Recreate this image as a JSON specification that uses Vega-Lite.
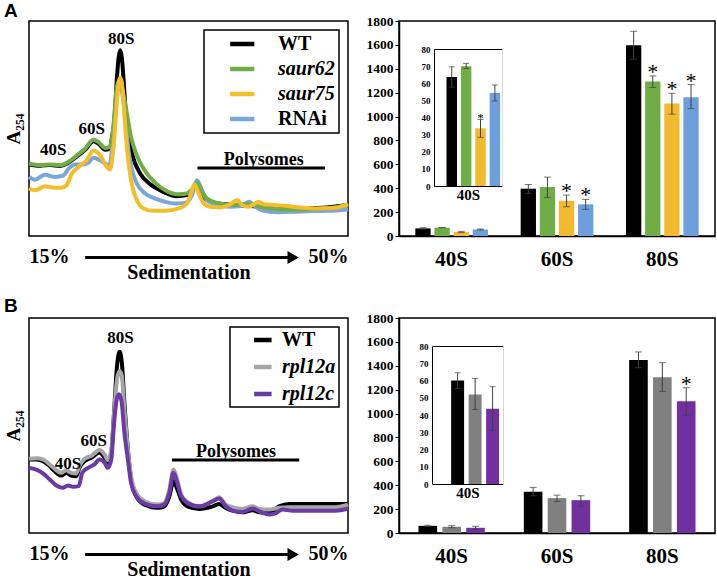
{
  "$schema": "https://vega.github.io/schema/vega-lite/v6.json",
  "padding": {"left": 3, "top": 1, "right": 0, "bottom": 0},
  "background": "white",
  "config": {
    "font": "Liberation Serif",
    "view": {"stroke": "black", "strokeWidth": 1.5},
    "axis": {"grid": false, "labelOverlap": false, "labelBound": false, "labelColor": "black", "titleColor": "black", "labelFont": "Liberation Serif", "titleFont": "Liberation Serif", "labelFontWeight": "bold", "titleFontWeight": "bold", "domainColor": "black", "tickColor": "black"},
    "axisY": {"labelOverlap": false},
    "axisQuantitative": {"labelOverlap": false},
    "text": {"font": "Liberation Serif", "fontWeight": "bold", "color": "black"}
  },
  "resolve": {"scale": {"color": "independent", "xOffset": "independent", "x": "independent", "y": "independent"}, "legend": {"color": "independent"}},
  "datasets": {
    "profA": [
      {"s":"WT","x":0,"y":33.3},{"s":"WT","x":3.5,"y":32.7},{"s":"WT","x":6.6,"y":33.0},{"s":"WT","x":9.7,"y":32.6},{"s":"WT","x":11.8,"y":33.6},{"s":"WT","x":13.4,"y":35.2},{"s":"WT","x":15.0,"y":37.0},{"s":"WT","x":17.6,"y":40.1},{"s":"WT","x":20.2,"y":44.1},{"s":"WT","x":21.8,"y":42.9},{"s":"WT","x":23.9,"y":40.1},{"s":"WT","x":25.2,"y":40.6},{"s":"WT","x":26.2,"y":47.5},{"s":"WT","x":26.8,"y":53.7},{"s":"WT","x":27.5,"y":72.2},{"s":"WT","x":28.1,"y":83.0},{"s":"WT","x":28.6,"y":86.4},{"s":"WT","x":29.1,"y":83.0},{"s":"WT","x":29.7,"y":71.5},{"s":"WT","x":30.5,"y":53.7},{"s":"WT","x":32.3,"y":38.3},{"s":"WT","x":34.9,"y":29.0},{"s":"WT","x":37.5,"y":24.7},{"s":"WT","x":39.6,"y":22.5},{"s":"WT","x":42.7,"y":20.1},{"s":"WT","x":46.4,"y":18.5},{"s":"WT","x":49.5,"y":19.0},{"s":"WT","x":51.1,"y":21.3},{"s":"WT","x":52.5,"y":23.1},{"s":"WT","x":53.7,"y":20.1},{"s":"WT","x":55.8,"y":16.7},{"s":"WT","x":59.0,"y":15.1},{"s":"WT","x":64.2,"y":14.5},{"s":"WT","x":69.4,"y":13.9},{"s":"WT","x":74.7,"y":13.3},{"s":"WT","x":79.9,"y":12.8},{"s":"WT","x":85.1,"y":12.7},{"s":"WT","x":90.4,"y":13.0},{"s":"WT","x":95.6,"y":13.6},{"s":"WT","x":100,"y":14.5},
      {"s":"RNAi","x":0,"y":27.5},{"s":"RNAi","x":1.9,"y":26.2},{"s":"RNAi","x":5.0,"y":28.5},{"s":"RNAi","x":8.2,"y":27.5},{"s":"RNAi","x":10.8,"y":28.2},{"s":"RNAi","x":12.4,"y":31.3},{"s":"RNAi","x":14.5,"y":33.3},{"s":"RNAi","x":17.1,"y":33.3},{"s":"RNAi","x":18.6,"y":34.0},{"s":"RNAi","x":20.2,"y":36.4},{"s":"RNAi","x":22.3,"y":35.2},{"s":"RNAi","x":24.4,"y":33.3},{"s":"RNAi","x":25.4,"y":33.6},{"s":"RNAi","x":26.2,"y":44.4},{"s":"RNAi","x":27.0,"y":59.9},{"s":"RNAi","x":27.9,"y":68.4},{"s":"RNAi","x":28.6,"y":69.1},{"s":"RNAi","x":29.3,"y":66.0},{"s":"RNAi","x":30.2,"y":55.2},{"s":"RNAi","x":31.2,"y":39.8},{"s":"RNAi","x":32.3,"y":30.6},{"s":"RNAi","x":33.8,"y":24.4},{"s":"RNAi","x":36.4,"y":19.8},{"s":"RNAi","x":39.6,"y":17.4},{"s":"RNAi","x":42.7,"y":15.9},{"s":"RNAi","x":45.9,"y":15.1},{"s":"RNAi","x":49.0,"y":15.4},{"s":"RNAi","x":51.1,"y":19.0},{"s":"RNAi","x":52.7,"y":25.9},{"s":"RNAi","x":54.2,"y":21.3},{"s":"RNAi","x":55.8,"y":16.7},{"s":"RNAi","x":59.0,"y":14.4},{"s":"RNAi","x":63.1,"y":13.6},{"s":"RNAi","x":66.3,"y":13.9},{"s":"RNAi","x":68.9,"y":15.9},{"s":"RNAi","x":71.0,"y":13.6},{"s":"RNAi","x":73.6,"y":11.7},{"s":"RNAi","x":77.8,"y":11.1},{"s":"RNAi","x":83.0,"y":11.3},{"s":"RNAi","x":88.3,"y":11.6},{"s":"RNAi","x":93.5,"y":11.7},{"s":"RNAi","x":100,"y":12.3},
      {"s":"saur62","x":0,"y":33.6},{"s":"saur62","x":3.5,"y":33.0},{"s":"saur62","x":6.6,"y":33.3},{"s":"saur62","x":9.7,"y":32.9},{"s":"saur62","x":11.8,"y":34.0},{"s":"saur62","x":13.4,"y":35.5},{"s":"saur62","x":15.0,"y":37.5},{"s":"saur62","x":17.6,"y":40.6},{"s":"saur62","x":20.2,"y":44.8},{"s":"saur62","x":21.8,"y":43.7},{"s":"saur62","x":23.9,"y":40.9},{"s":"saur62","x":25.2,"y":41.4},{"s":"saur62","x":26.2,"y":47.5},{"s":"saur62","x":26.8,"y":56.8},{"s":"saur62","x":27.5,"y":69.1},{"s":"saur62","x":28.3,"y":72.2},{"s":"saur62","x":28.9,"y":70.7},{"s":"saur62","x":29.6,"y":66.0},{"s":"saur62","x":30.7,"y":56.8},{"s":"saur62","x":32.0,"y":46.0},{"s":"saur62","x":33.8,"y":37.5},{"s":"saur62","x":36.4,"y":30.2},{"s":"saur62","x":39.6,"y":24.7},{"s":"saur62","x":42.7,"y":21.3},{"s":"saur62","x":46.4,"y":19.4},{"s":"saur62","x":49.5,"y":19.8},{"s":"saur62","x":51.1,"y":21.6},{"s":"saur62","x":52.7,"y":24.7},{"s":"saur62","x":54.2,"y":20.5},{"s":"saur62","x":55.8,"y":17.4},{"s":"saur62","x":59.0,"y":15.4},{"s":"saur62","x":64.2,"y":14.4},{"s":"saur62","x":68.9,"y":14.8},{"s":"saur62","x":72.6,"y":13.6},{"s":"saur62","x":79.9,"y":12.3},{"s":"saur62","x":85.1,"y":12.3},{"s":"saur62","x":90.4,"y":12.7},{"s":"saur62","x":95.6,"y":13.3},{"s":"saur62","x":100,"y":14.4},
      {"s":"saur75","x":0,"y":22.1},{"s":"saur75","x":1.9,"y":21.3},{"s":"saur75","x":5.0,"y":23.1},{"s":"saur75","x":8.2,"y":22.5},{"s":"saur75","x":10.3,"y":22.5},{"s":"saur75","x":11.8,"y":23.6},{"s":"saur75","x":13.4,"y":29.0},{"s":"saur75","x":15.5,"y":32.1},{"s":"saur75","x":18.1,"y":35.2},{"s":"saur75","x":20.2,"y":39.8},{"s":"saur75","x":22.3,"y":37.5},{"s":"saur75","x":24.4,"y":32.1},{"s":"saur75","x":25.4,"y":30.9},{"s":"saur75","x":26.5,"y":41.4},{"s":"saur75","x":27.5,"y":61.4},{"s":"saur75","x":28.2,"y":72.2},{"s":"saur75","x":28.6,"y":73.5},{"s":"saur75","x":29.1,"y":71.5},{"s":"saur75","x":29.8,"y":58.3},{"s":"saur75","x":30.7,"y":41.4},{"s":"saur75","x":32.0,"y":25.9},{"s":"saur75","x":33.8,"y":16.7},{"s":"saur75","x":35.9,"y":12.8},{"s":"saur75","x":39.1,"y":11.7},{"s":"saur75","x":42.7,"y":11.7},{"s":"saur75","x":46.9,"y":12.8},{"s":"saur75","x":49.5,"y":15.1},{"s":"saur75","x":50.8,"y":19.8},{"s":"saur75","x":51.8,"y":24.1},{"s":"saur75","x":53.2,"y":19.8},{"s":"saur75","x":54.8,"y":15.1},{"s":"saur75","x":56.9,"y":13.6},{"s":"saur75","x":60.0,"y":13.3},{"s":"saur75","x":63.1,"y":14.8},{"s":"saur75","x":65.2,"y":16.7},{"s":"saur75","x":66.8,"y":14.4},{"s":"saur75","x":68.9,"y":13.6},{"s":"saur75","x":70.5,"y":14.8},{"s":"saur75","x":72.0,"y":15.9},{"s":"saur75","x":73.6,"y":14.8},{"s":"saur75","x":76.8,"y":14.4},{"s":"saur75","x":80.9,"y":13.9},{"s":"saur75","x":85.1,"y":13.3},{"s":"saur75","x":90.4,"y":12.8},{"s":"saur75","x":95.6,"y":13.0},{"s":"saur75","x":100,"y":14.8}
    ],
    "profB": [
      {"s":"WT","x":0,"y":34.2},{"s":"WT","x":2.3,"y":34.2},{"s":"WT","x":4.4,"y":33.4},{"s":"WT","x":6.5,"y":31.1},{"s":"WT","x":8.0,"y":28.8},{"s":"WT","x":10.1,"y":26.7},{"s":"WT","x":11.7,"y":28.0},{"s":"WT","x":13.2,"y":26.7},{"s":"WT","x":14.8,"y":26.4},{"s":"WT","x":15.8,"y":30.3},{"s":"WT","x":17.4,"y":33.4},{"s":"WT","x":19.5,"y":35.0},{"s":"WT","x":22.1,"y":37.3},{"s":"WT","x":23.7,"y":35.0},{"s":"WT","x":24.7,"y":32.7},{"s":"WT","x":25.8,"y":37.3},{"s":"WT","x":26.6,"y":54.4},{"s":"WT","x":27.6,"y":77.8},{"s":"WT","x":28.4,"y":84.3},{"s":"WT","x":29.1,"y":79.3},{"s":"WT","x":29.9,"y":60.7},{"s":"WT","x":31.0,"y":38.9},{"s":"WT","x":32.0,"y":24.9},{"s":"WT","x":33.6,"y":17.1},{"s":"WT","x":36.2,"y":13.2},{"s":"WT","x":40.4,"y":11.7},{"s":"WT","x":42.4,"y":12.4},{"s":"WT","x":44.0,"y":17.1},{"s":"WT","x":45.3,"y":24.1},{"s":"WT","x":46.1,"y":21.8},{"s":"WT","x":47.7,"y":15.6},{"s":"WT","x":49.7,"y":12.4},{"s":"WT","x":53.4,"y":11.2},{"s":"WT","x":57.6,"y":12.4},{"s":"WT","x":59.6,"y":13.5},{"s":"WT","x":61.7,"y":11.7},{"s":"WT","x":63.8,"y":10.4},{"s":"WT","x":66.9,"y":9.6},{"s":"WT","x":70.1,"y":10.6},{"s":"WT","x":72.2,"y":9.6},{"s":"WT","x":75.3,"y":9.3},{"s":"WT","x":78.4,"y":12.4},{"s":"WT","x":81.5,"y":13.5},{"s":"WT","x":86.8,"y":13.5},{"s":"WT","x":92.0,"y":13.5},{"s":"WT","x":96.1,"y":13.5},{"s":"WT","x":100,"y":13.5},
      {"s":"rpl12a","x":0,"y":34.5},{"s":"rpl12a","x":2.3,"y":34.8},{"s":"rpl12a","x":4.4,"y":34.2},{"s":"rpl12a","x":6.5,"y":31.9},{"s":"rpl12a","x":8.0,"y":29.9},{"s":"rpl12a","x":10.1,"y":28.0},{"s":"rpl12a","x":11.7,"y":29.2},{"s":"rpl12a","x":13.2,"y":28.0},{"s":"rpl12a","x":14.8,"y":27.7},{"s":"rpl12a","x":15.8,"y":31.1},{"s":"rpl12a","x":17.4,"y":34.5},{"s":"rpl12a","x":19.5,"y":35.8},{"s":"rpl12a","x":22.1,"y":38.6},{"s":"rpl12a","x":23.7,"y":36.5},{"s":"rpl12a","x":24.7,"y":33.9},{"s":"rpl12a","x":25.8,"y":38.9},{"s":"rpl12a","x":26.6,"y":54.4},{"s":"rpl12a","x":27.6,"y":71.5},{"s":"rpl12a","x":28.4,"y":75.4},{"s":"rpl12a","x":29.1,"y":73.1},{"s":"rpl12a","x":29.9,"y":57.5},{"s":"rpl12a","x":31.0,"y":38.9},{"s":"rpl12a","x":32.0,"y":26.4},{"s":"rpl12a","x":33.6,"y":18.7},{"s":"rpl12a","x":36.2,"y":14.8},{"s":"rpl12a","x":40.4,"y":13.2},{"s":"rpl12a","x":42.4,"y":14.0},{"s":"rpl12a","x":44.0,"y":20.2},{"s":"rpl12a","x":45.3,"y":29.5},{"s":"rpl12a","x":46.3,"y":25.7},{"s":"rpl12a","x":47.7,"y":17.9},{"s":"rpl12a","x":49.7,"y":14.3},{"s":"rpl12a","x":53.4,"y":12.4},{"s":"rpl12a","x":57.6,"y":14.8},{"s":"rpl12a","x":59.6,"y":16.6},{"s":"rpl12a","x":61.7,"y":13.2},{"s":"rpl12a","x":63.8,"y":12.0},{"s":"rpl12a","x":66.9,"y":11.2},{"s":"rpl12a","x":70.1,"y":12.4},{"s":"rpl12a","x":72.2,"y":11.2},{"s":"rpl12a","x":75.3,"y":10.9},{"s":"rpl12a","x":78.4,"y":11.7},{"s":"rpl12a","x":81.5,"y":12.0},{"s":"rpl12a","x":86.8,"y":12.0},{"s":"rpl12a","x":92.0,"y":12.0},{"s":"rpl12a","x":96.1,"y":12.0},{"s":"rpl12a","x":100,"y":13.2},
      {"s":"rpl12c","x":0,"y":30.3},{"s":"rpl12c","x":2.3,"y":29.5},{"s":"rpl12c","x":4.4,"y":27.7},{"s":"rpl12c","x":6.5,"y":24.9},{"s":"rpl12c","x":8.6,"y":22.1},{"s":"rpl12c","x":10.6,"y":21.0},{"s":"rpl12c","x":12.2,"y":22.1},{"s":"rpl12c","x":13.8,"y":21.5},{"s":"rpl12c","x":15.6,"y":21.8},{"s":"rpl12c","x":16.7,"y":28.0},{"s":"rpl12c","x":18.5,"y":30.3},{"s":"rpl12c","x":20.5,"y":31.9},{"s":"rpl12c","x":22.1,"y":34.2},{"s":"rpl12c","x":23.7,"y":32.7},{"s":"rpl12c","x":24.7,"y":30.3},{"s":"rpl12c","x":25.8,"y":34.2},{"s":"rpl12c","x":26.6,"y":49.8},{"s":"rpl12c","x":27.5,"y":62.2},{"s":"rpl12c","x":28.2,"y":64.5},{"s":"rpl12c","x":29.0,"y":61.4},{"s":"rpl12c","x":29.9,"y":46.7},{"s":"rpl12c","x":31.0,"y":34.2},{"s":"rpl12c","x":32.0,"y":23.3},{"s":"rpl12c","x":33.6,"y":17.1},{"s":"rpl12c","x":36.2,"y":13.7},{"s":"rpl12c","x":40.4,"y":12.4},{"s":"rpl12c","x":42.4,"y":13.2},{"s":"rpl12c","x":44.0,"y":18.7},{"s":"rpl12c","x":45.3,"y":28.0},{"s":"rpl12c","x":46.3,"y":24.1},{"s":"rpl12c","x":47.7,"y":17.1},{"s":"rpl12c","x":49.7,"y":14.0},{"s":"rpl12c","x":53.4,"y":12.4},{"s":"rpl12c","x":57.6,"y":14.8},{"s":"rpl12c","x":59.6,"y":16.0},{"s":"rpl12c","x":61.7,"y":12.4},{"s":"rpl12c","x":63.8,"y":10.4},{"s":"rpl12c","x":66.9,"y":9.8},{"s":"rpl12c","x":70.1,"y":11.4},{"s":"rpl12c","x":72.2,"y":10.1},{"s":"rpl12c","x":75.3,"y":8.6},{"s":"rpl12c","x":77.4,"y":9.3},{"s":"rpl12c","x":79.5,"y":10.9},{"s":"rpl12c","x":82.6,"y":10.4},{"s":"rpl12c","x":89.9,"y":10.4},{"s":"rpl12c","x":96.1,"y":10.4},{"s":"rpl12c","x":100,"y":11.4}
    ],
    "barsA": [
      {"fraction":"40S","genotype":"WT","value":63.7,"lo":57.8,"hi":69.6,"sig":false},
      {"fraction":"40S","genotype":"saur62","value":70.0,"lo":68.6,"hi":71.6,"sig":false},
      {"fraction":"40S","genotype":"saur75","value":33.7,"lo":28.4,"hi":38.8,"sig":true},
      {"fraction":"40S","genotype":"RNAi","value":54.3,"lo":49.6,"hi":59.0,"sig":false},
      {"fraction":"60S","genotype":"WT","value":396,"lo":357,"hi":432,"sig":false},
      {"fraction":"60S","genotype":"saur62","value":410,"lo":323,"hi":493,"sig":false},
      {"fraction":"60S","genotype":"saur75","value":295,"lo":245,"hi":343,"sig":true},
      {"fraction":"60S","genotype":"RNAi","value":265,"lo":223,"hi":306,"sig":true},
      {"fraction":"80S","genotype":"WT","value":1597,"lo":1480,"hi":1714,"sig":false},
      {"fraction":"80S","genotype":"saur62","value":1293,"lo":1243,"hi":1340,"sig":true},
      {"fraction":"80S","genotype":"saur75","value":1109,"lo":1020,"hi":1195,"sig":true},
      {"fraction":"80S","genotype":"RNAi","value":1162,"lo":1067,"hi":1268,"sig":true}
    ],
    "barsB": [
      {"fraction":"40S","genotype":"WT","value":60.0,"lo":55.4,"hi":64.5,"sig":false},
      {"fraction":"40S","genotype":"rpl12a","value":51.9,"lo":43.2,"hi":61.2,"sig":false},
      {"fraction":"40S","genotype":"rpl12c","value":43.6,"lo":31.2,"hi":56.4,"sig":false},
      {"fraction":"60S","genotype":"WT","value":345,"lo":312,"hi":382,"sig":false},
      {"fraction":"60S","genotype":"rpl12a","value":292,"lo":264,"hi":317,"sig":false},
      {"fraction":"60S","genotype":"rpl12c","value":275,"lo":222,"hi":312,"sig":false},
      {"fraction":"80S","genotype":"WT","value":1449,"lo":1384,"hi":1516,"sig":false},
      {"fraction":"80S","genotype":"rpl12a","value":1303,"lo":1185,"hi":1426,"sig":false},
      {"fraction":"80S","genotype":"rpl12c","value":1104,"lo":986,"hi":1216,"sig":true}
    ]
  },
  "columns": 2,
  "bounds": "flush",
  "spacing": {"row": 82, "column": 51},
  "concat": [
    {
      "title": {"text": "A", "anchor": "start", "frame": "bounds", "font": "Liberation Sans", "fontSize": 19, "fontWeight": "bold", "offset": 0, "color": "black"},
      "width": 319, "height": 215,
      "layer": [
        {
          "data": {"name": "profA"},
          "mark": {"type": "line", "strokeWidth": 4, "interpolate": "monotone"},
          "encoding": {
            "x": {"field": "x", "type": "quantitative", "scale": {"domain": [0, 100], "nice": false}, "axis": {"values": [0, 100], "labelExpr": "datum.value == 0 ? '15%' : '50%'", "labelFlush": true, "ticks": false, "tickSize": 0, "domain": false, "labelFontSize": 20, "labelPadding": 10, "title": "Sedimentation", "titleFontSize": 20, "titlePadding": -4}},
            "y": {"field": "y", "type": "quantitative", "scale": {"domain": [0, 100], "nice": false}, "axis": {"title": "A₂₅₄", "labels": false, "ticks": false, "domain": false, "titleFontSize": 19, "titlePadding": 6}},
            "color": {"field": "s", "type": "nominal", "scale": {"domain": ["WT", "saur62", "saur75", "RNAi"], "range": ["#000000", "#70AD47", "#F4BE2A", "#7AA6DB"]},
              "legend": {"title": null, "orient": "top-right", "offset": 9, "strokeColor": "black", "fillColor": "white", "padding": 4, "labelFontSize": 20, "labelFont": "Liberation Serif", "labelFontWeight": "bold", "labelColor": "black", "symbolType": "M-0.8,0H2.5", "symbolStrokeWidth": 4.5, "symbolSize": 215, "symbolOffset": 18, "rowPadding": 5, "labelOffset": 32,
                "encode": {"labels": {"update": {"fontStyle": {"signal": "datum.value == 'WT' || datum.value == 'RNAi' ? 'normal' : 'italic'"}}}, "legend": {"update": {"strokeWidth": {"value": 1.5}}}}}}
          }
        },
        {"data": {"values": [{}]}, "mark": {"type": "text", "fontSize": 17}, "encoding": {"x": {"datum": 7.6}, "y": {"datum": 39.8}, "text": {"value": "40S"}}},
        {"data": {"values": [{}]}, "mark": {"type": "text", "fontSize": 17}, "encoding": {"x": {"datum": 19.7}, "y": {"datum": 50}, "text": {"value": "60S"}}},
        {"data": {"values": [{}]}, "mark": {"type": "text", "fontSize": 17}, "encoding": {"x": {"datum": 28.9}, "y": {"datum": 91.5}, "text": {"value": "80S"}}},
        {"data": {"values": [{}]}, "mark": {"type": "text", "fontSize": 18}, "encoding": {"x": {"datum": 73.6}, "y": {"datum": 35.5}, "text": {"value": "Polysomes"}}},
        {"data": {"values": [{}]}, "mark": {"type": "rule", "strokeWidth": 3, "color": "black"}, "encoding": {"x": {"datum": 52.8}, "x2": {"datum": 92.8}, "y": {"datum": 31.6}}},
        {"data": {"values": [{}]}, "mark": {"type": "rule", "strokeWidth": 3, "color": "black", "clip": false}, "encoding": {"x": {"datum": 17.6}, "x2": {"datum": 82}, "y": {"datum": -10}}},
        {"data": {"values": [{}]}, "mark": {"type": "point", "shape": "triangle-right", "filled": true, "size": 170, "color": "black", "opacity": 1, "clip": false}, "encoding": {"x": {"datum": 82.8}, "y": {"datum": -10}}}
      ]
    },
    {
      "width": 316, "height": 215,
      "data": {"name": "barsA"},
      "layer": [
        {
          "encoding": {
            "x": {"field": "fraction", "type": "nominal", "scale": {"domain": ["40S", "60S", "80S"], "paddingInner": 0.31, "paddingOuter": 0.155}, "axis": {"title": null, "ticks": false, "tickSize": 0, "labelFontSize": 21, "labelPadding": 12, "labelAngle": 0, "domainWidth": 1.5}},
            "xOffset": {"field": "genotype", "type": "nominal", "scale": {"domain": ["WT", "saur62", "saur75", "RNAi"], "paddingInner": 0.2, "paddingOuter": 0}},
            "y": {"field": "value", "type": "quantitative", "title": null, "scale": {"domain": [0, 1800], "nice": false}, "axis": {"values": [0, 200, 400, 600, 800, 1000, 1200, 1400, 1600, 1800], "tickCount": 10, "format": "d", "labelOverlap": false, "labelFontSize": 13.5, "tickSize": 4, "labelPadding": 2, "domainWidth": 1.5}}
          },
          "layer": [
            {"mark": {"type": "bar"}, "encoding": {
              "color": {"field": "genotype", "type": "nominal", "scale": {"domain": ["WT", "saur62", "saur75", "RNAi"], "range": ["#000000", "#70AD47", "#F2BA2F", "#6C9FDC"]}, "legend": null}}},
            {"mark": {"type": "rule", "color": "#404040", "strokeWidth": 1}, "encoding": {"y": {"field": "lo", "type": "quantitative"}, "y2": {"field": "hi"}}},
            {"mark": {"type": "tick", "color": "#404040", "size": 7, "thickness": 1}, "encoding": {"y": {"field": "lo", "type": "quantitative"}}},
            {"mark": {"type": "tick", "color": "#404040", "size": 7, "thickness": 1}, "encoding": {"y": {"field": "hi", "type": "quantitative"}}},
            {"transform": [{"filter": "datum.sig && datum.fraction != '40S'"}], "mark": {"type": "text", "text": "*", "fontSize": 22, "fontWeight": "normal", "baseline": "alphabetic", "dy": 3, "color": "black", "fill": "black"}, "encoding": {"y": {"field": "hi", "type": "quantitative"}}}
          ]
        },
        {
          "transform": [{"filter": "datum.fraction == '40S'"}],
          "layer": [
            {"mark": {"type": "bar"}, "encoding": {
              "x": {"field": "genotype", "type": "nominal", "scale": {"domain": ["WT", "saur62", "saur75", "RNAi"], "range": [35, 103], "paddingInner": 0.27, "paddingOuter": 0.5, "align": 0.87}, "axis": {"orient": "bottom", "offset": -50, "labels": false, "ticks": false, "tickSize": 0, "title": "40S", "titleFontSize": 15, "titlePadding": 1, "domainWidth": 1}},
              "y": {"field": "value", "type": "quantitative", "title": null, "scale": {"domain": [0, 80], "range": [165, 28], "nice": false}, "axis": {"orient": "left", "offset": -35, "values": [0, 10, 20, 30, 40, 50, 60, 70, 80], "labelOverlap": false, "labelFontSize": 9, "ticks": false, "tickSize": 0, "labelPadding": 4, "domainWidth": 1}},
              "color": {"field": "genotype", "type": "nominal", "scale": {"domain": ["WT", "saur62", "saur75", "RNAi"], "range": ["#000000", "#70AD47", "#F2BA2F", "#6C9FDC"]}, "legend": null}}},
            {"mark": {"type": "rule", "color": "#404040", "strokeWidth": 1}, "encoding": {
              "x": {"field": "genotype", "type": "nominal", "axis": {"orient": "top", "offset": -28, "labels": false, "ticks": false, "tickSize": 0, "title": null, "domainWidth": 1}},
              "y": {"field": "lo", "type": "quantitative", "title": null, "axis": {"orient": "right", "offset": -213, "labels": false, "ticks": false, "tickSize": 0, "title": null, "domainColor": "#d8d8d8", "domainWidth": 1}}, "y2": {"field": "hi"}}},
            {"mark": {"type": "tick", "color": "#404040", "size": 6, "thickness": 1}, "encoding": {"x": {"field": "genotype", "type": "nominal", "axis": null}, "y": {"field": "lo", "type": "quantitative", "axis": null}}},
            {"mark": {"type": "tick", "color": "#404040", "size": 6, "thickness": 1}, "encoding": {"x": {"field": "genotype", "type": "nominal", "axis": null}, "y": {"field": "hi", "type": "quantitative", "axis": null}}},
            {"transform": [{"filter": "datum.sig"}], "mark": {"type": "text", "text": "*", "fontSize": 13, "fontWeight": "normal", "baseline": "alphabetic", "dy": 2, "color": "black", "fill": "black"}, "encoding": {"x": {"field": "genotype", "type": "nominal", "axis": null}, "y": {"field": "hi", "type": "quantitative", "axis": null}}}
          ],
          "resolve": {"axis": {"x": "independent", "y": "independent"}}
        }
      ],
      "resolve": {"scale": {"x": "independent", "y": "independent"}}
    },
    {
      "title": {"text": "B", "anchor": "start", "frame": "bounds", "font": "Liberation Sans", "fontSize": 19, "fontWeight": "bold", "offset": 2, "color": "black"},
      "width": 319, "height": 215,
      "layer": [
        {
          "data": {"name": "profB"},
          "mark": {"type": "line", "strokeWidth": 4, "interpolate": "monotone"},
          "encoding": {
            "x": {"field": "x", "type": "quantitative", "scale": {"domain": [0, 100], "nice": false}, "axis": {"values": [0, 100], "labelExpr": "datum.value == 0 ? '15%' : '50%'", "labelFlush": true, "ticks": false, "tickSize": 0, "domain": false, "labelFontSize": 20, "labelPadding": 10, "title": "Sedimentation", "titleFontSize": 20, "titlePadding": -4}},
            "y": {"field": "y", "type": "quantitative", "scale": {"domain": [0, 100], "nice": false}, "axis": {"title": "A₂₅₄", "labels": false, "ticks": false, "domain": false, "titleFontSize": 19, "titlePadding": 6}},
            "color": {"field": "s", "type": "nominal", "scale": {"domain": ["WT", "rpl12a", "rpl12c"], "range": ["#000000", "#A6A6A6", "#6A3AA5"]},
              "legend": {"title": null, "orient": "top-right", "offset": 9, "strokeColor": "black", "fillColor": "white", "padding": 3, "labelFontSize": 20, "labelFont": "Liberation Serif", "labelFontWeight": "bold", "labelColor": "black", "symbolType": "M-0.5,0H2.5", "symbolStrokeWidth": 4.5, "symbolSize": 136, "symbolOffset": 14, "rowPadding": 7, "labelOffset": 15,
                "encode": {"labels": {"update": {"fontStyle": {"signal": "datum.value == 'WT' ? 'normal' : 'italic'"}}}, "legend": {"update": {"strokeWidth": {"value": 1.5}}}}}}
          }
        },
        {"data": {"values": [{}]}, "mark": {"type": "text", "fontSize": 17}, "encoding": {"x": {"datum": 12.2}, "y": {"datum": 32}, "text": {"value": "40S"}}},
        {"data": {"values": [{}]}, "mark": {"type": "text", "fontSize": 17}, "encoding": {"x": {"datum": 20.3}, "y": {"datum": 43}, "text": {"value": "60S"}}},
        {"data": {"values": [{}]}, "mark": {"type": "text", "fontSize": 17}, "encoding": {"x": {"datum": 28.7}, "y": {"datum": 90.5}, "text": {"value": "80S"}}},
        {"data": {"values": [{}]}, "mark": {"type": "text", "fontSize": 18}, "encoding": {"x": {"datum": 64.9}, "y": {"datum": 37.5}, "text": {"value": "Polysomes"}}},
        {"data": {"values": [{}]}, "mark": {"type": "rule", "strokeWidth": 3, "color": "black"}, "encoding": {"x": {"datum": 44.8}, "x2": {"datum": 84.7}, "y": {"datum": 33.9}}},
        {"data": {"values": [{}]}, "mark": {"type": "rule", "strokeWidth": 3, "color": "black", "clip": false}, "encoding": {"x": {"datum": 17.6}, "x2": {"datum": 82}, "y": {"datum": -10}}},
        {"data": {"values": [{}]}, "mark": {"type": "point", "shape": "triangle-right", "filled": true, "size": 170, "color": "black", "opacity": 1, "clip": false}, "encoding": {"x": {"datum": 82.8}, "y": {"datum": -10}}}
      ]
    },
    {
      "width": 316, "height": 215,
      "data": {"name": "barsB"},
      "layer": [
        {
          "encoding": {
            "x": {"field": "fraction", "type": "nominal", "scale": {"domain": ["40S", "60S", "80S"], "paddingInner": 0.37, "paddingOuter": 0.185}, "axis": {"title": null, "ticks": false, "tickSize": 0, "labelFontSize": 21, "labelPadding": 12, "labelAngle": 0, "domainWidth": 1.5}},
            "xOffset": {"field": "genotype", "type": "nominal", "scale": {"domain": ["WT", "rpl12a", "rpl12c"], "paddingInner": 0.22, "paddingOuter": 0}},
            "y": {"field": "value", "type": "quantitative", "title": null, "scale": {"domain": [0, 1800], "nice": false}, "axis": {"values": [0, 200, 400, 600, 800, 1000, 1200, 1400, 1600, 1800], "tickCount": 10, "format": "d", "labelOverlap": false, "labelFontSize": 13.5, "tickSize": 4, "labelPadding": 2, "domainWidth": 1.5}}
          },
          "layer": [
            {"mark": {"type": "bar"}, "encoding": {
              "color": {"field": "genotype", "type": "nominal", "scale": {"domain": ["WT", "rpl12a", "rpl12c"], "range": ["#000000", "#808080", "#7030A0"]}, "legend": null}}},
            {"mark": {"type": "rule", "color": "#404040", "strokeWidth": 1}, "encoding": {"y": {"field": "lo", "type": "quantitative"}, "y2": {"field": "hi"}}},
            {"mark": {"type": "tick", "color": "#404040", "size": 7, "thickness": 1}, "encoding": {"y": {"field": "lo", "type": "quantitative"}}},
            {"mark": {"type": "tick", "color": "#404040", "size": 7, "thickness": 1}, "encoding": {"y": {"field": "hi", "type": "quantitative"}}},
            {"transform": [{"filter": "datum.sig && datum.fraction != '40S'"}], "mark": {"type": "text", "text": "*", "fontSize": 22, "fontWeight": "normal", "baseline": "alphabetic", "dy": 3, "color": "black", "fill": "black"}, "encoding": {"y": {"field": "hi", "type": "quantitative"}}}
          ]
        },
        {
          "transform": [{"filter": "datum.fraction == '40S'"}],
          "layer": [
            {"mark": {"type": "bar"}, "encoding": {
              "x": {"field": "genotype", "type": "nominal", "scale": {"domain": ["WT", "rpl12a", "rpl12c"], "range": [33, 104], "paddingInner": 0.26, "paddingOuter": 0.66, "align": 0.83}, "axis": {"orient": "bottom", "offset": -49, "labels": false, "ticks": false, "tickSize": 0, "title": "40S", "titleFontSize": 15, "titlePadding": 1, "domainWidth": 1}},
              "y": {"field": "value", "type": "quantitative", "title": null, "scale": {"domain": [0, 80], "range": [166, 28], "nice": false}, "axis": {"orient": "left", "offset": -33, "values": [0, 10, 20, 30, 40, 50, 60, 70, 80], "labelOverlap": false, "labelFontSize": 9, "ticks": false, "tickSize": 0, "labelPadding": 4, "domainWidth": 1}},
              "color": {"field": "genotype", "type": "nominal", "scale": {"domain": ["WT", "rpl12a", "rpl12c"], "range": ["#000000", "#808080", "#7030A0"]}, "legend": null}}},
            {"mark": {"type": "rule", "color": "#404040", "strokeWidth": 1}, "encoding": {
              "x": {"field": "genotype", "type": "nominal", "axis": {"orient": "top", "offset": -28, "labels": false, "ticks": false, "tickSize": 0, "title": null, "domainWidth": 1}},
              "y": {"field": "lo", "type": "quantitative", "title": null, "axis": {"orient": "right", "offset": -212, "labels": false, "ticks": false, "tickSize": 0, "title": null, "domainColor": "#d8d8d8", "domainWidth": 1}}, "y2": {"field": "hi"}}},
            {"mark": {"type": "tick", "color": "#404040", "size": 6, "thickness": 1}, "encoding": {"x": {"field": "genotype", "type": "nominal", "axis": null}, "y": {"field": "lo", "type": "quantitative", "axis": null}}},
            {"mark": {"type": "tick", "color": "#404040", "size": 6, "thickness": 1}, "encoding": {"x": {"field": "genotype", "type": "nominal", "axis": null}, "y": {"field": "hi", "type": "quantitative", "axis": null}}}
          ],
          "resolve": {"axis": {"x": "independent", "y": "independent"}}
        }
      ],
      "resolve": {"scale": {"x": "independent", "y": "independent"}}
    }
  ]
}
